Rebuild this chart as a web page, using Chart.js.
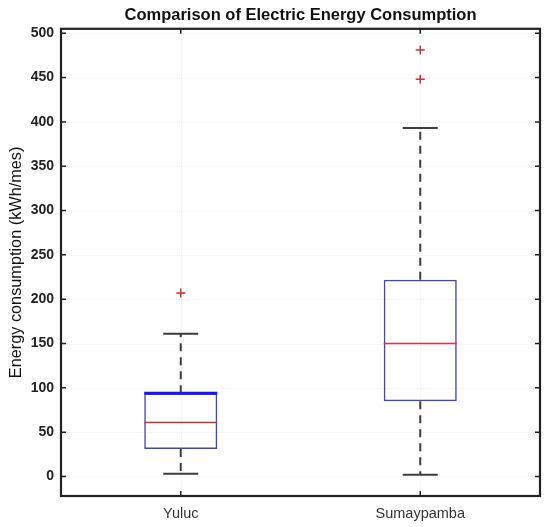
<!DOCTYPE html>
<html>
<head>
<meta charset="utf-8">
<script src="https://cdn.jsdelivr.net/npm/chart.js@4/dist/chart.umd.min.js"></script>
<style>
html,body{margin:0;padding:0;background:#fff;}
#wrap{width:550px;height:527px;}
</style>
</head>
<body>
<div id="wrap"><canvas id="c" width="550" height="527"></canvas></div>
<script>
const categories = ['Yuluc', 'Sumaypamba'];
const lowerWhisker = [3, 2];
const q1 = [31, 85];
const median = [61, 150];
const q3 = [94, 222];
const upperWhisker = [161, 393];
const outliersYuluc = [207];
const outliersSumaypamba = [481, 448];
const yTicks = [0, 50, 100, 150, 200, 250, 300, 350, 400, 450, 500];

const outlierPoints = [
  ...outliersYuluc.map(v => ({x: categories[0], y: v})),
  ...outliersSumaypamba.map(v => ({x: categories[1], y: v}))
];

const BOX_FRAC = 0.305;   // box width as fraction of category width
const CAP_FRAC = 0.146;   // whisker cap width as fraction of category width

const boxPlugin = {
  id: 'boxWhiskers',
  beforeDatasetsDraw(chart) {
    const {ctx, chartArea: a, scales: {x, y}} = chart;
    ctx.save();
    ctx.strokeStyle = 'rgba(0,0,0,0.06)';
    ctx.lineWidth = 1;
    ctx.setLineDash([1, 1]);
    yTicks.forEach(t => {
      const py = Math.round(y.getPixelForValue(t)) + 0.5;
      ctx.beginPath(); ctx.moveTo(a.left, py); ctx.lineTo(a.right, py); ctx.stroke();
    });
    categories.forEach((c, i) => {
      const px = Math.round(x.getPixelForValue(i)) + 0.5;
      ctx.beginPath(); ctx.moveTo(px, a.top); ctx.lineTo(px, a.bottom); ctx.stroke();
    });
    ctx.restore();
  },
  afterDatasetsDraw(chart) {
    const {ctx, chartArea: a, scales: {x, y}} = chart;
    const catW = (a.right - a.left) / categories.length;
    ctx.save();
    categories.forEach((c, i) => {
      const cx = x.getPixelForValue(i);
      const boxHalf = catW * BOX_FRAC / 2;
      const capHalf = catW * CAP_FRAC / 2;
      ctx.strokeStyle = '#3d3d3d';
      ctx.lineWidth = 2;
      ctx.setLineDash([8, 6]);
      ctx.beginPath();
      ctx.moveTo(cx, y.getPixelForValue(q3[i]));
      ctx.lineTo(cx, y.getPixelForValue(upperWhisker[i]));
      ctx.moveTo(cx, y.getPixelForValue(q1[i]));
      ctx.lineTo(cx, y.getPixelForValue(lowerWhisker[i]));
      ctx.stroke();
      ctx.setLineDash([]);
      ctx.beginPath();
      [upperWhisker[i], lowerWhisker[i]].forEach(v => {
        const py = y.getPixelForValue(v);
        ctx.moveTo(cx - capHalf, py); ctx.lineTo(cx + capHalf, py);
      });
      ctx.stroke();
      ctx.strokeStyle = i === 0 ? '#b03a3a' : '#d8334a';
      ctx.lineWidth = 1.5;
      ctx.beginPath();
      const pm = y.getPixelForValue(median[i]);
      ctx.moveTo(cx - boxHalf, pm); ctx.lineTo(cx + boxHalf, pm);
      ctx.stroke();
    });
    ctx.strokeStyle = '#1414ff';
    ctx.lineWidth = 3;
    ctx.beginPath();
    const cx0 = x.getPixelForValue(0), bh = catW * BOX_FRAC / 2, p3 = y.getPixelForValue(q3[0]);
    ctx.moveTo(cx0 - bh, p3); ctx.lineTo(cx0 + bh, p3);
    ctx.stroke();
    ctx.restore();
  },
  afterDraw(chart) {
    const {ctx, chartArea: a, scales: {x, y}} = chart;
    ctx.save();
    ctx.strokeStyle = '#222';
    ctx.lineWidth = 1.5;
    ctx.beginPath();
    yTicks.forEach(t => {
      const py = y.getPixelForValue(t);
      ctx.moveTo(a.left, py); ctx.lineTo(a.left + 5, py);
      ctx.moveTo(a.right, py); ctx.lineTo(a.right - 5, py);
    });
    categories.forEach((c, i) => {
      const px = x.getPixelForValue(i);
      ctx.moveTo(px, a.bottom); ctx.lineTo(px, a.bottom - 5);
      ctx.moveTo(px, a.top); ctx.lineTo(px, a.top + 5);
    });
    ctx.stroke();
    ctx.lineWidth = 2.2;
    ctx.strokeRect(a.left, a.top, a.right - a.left, a.bottom - a.top);
    ctx.restore();
  }
};

new Chart(document.getElementById('c'), {
  type: 'bar',
  data: {
    labels: categories,
    datasets: [
      {
        type: 'bar',
        label: 'IQR',
        data: categories.map((c, i) => [q1[i], q3[i]]),
        backgroundColor: 'rgba(0,0,0,0)',
        borderColor: '#4444b4',
        borderWidth: 1.5,
        borderSkipped: false,
        barPercentage: BOX_FRAC,
        categoryPercentage: 1,
        order: 2
      },
      {
        type: 'line',
        label: 'Outliers',
        data: outlierPoints,
        showLine: false,
        pointStyle: 'cross',
        pointRadius: 4.5,
        pointBorderWidth: 1.5,
        pointBorderColor: '#d03030',
        pointBackgroundColor: '#d03030',
        order: 1
      }
    ]
  },
  options: {
    responsive: false,
    animation: false,
    devicePixelRatio: 1,
    layout: {padding: {left: 0, right: 10, top: 0, bottom: 0}},
    plugins: {
      legend: {display: false},
      tooltip: {enabled: false},
      title: {
        display: true,
        fullSize: false,
        text: 'Comparison of Electric Energy Consumption',
        color: '#111',
        font: {family: 'Liberation Sans, Arial, sans-serif', size: 16.5, weight: 'bold'},
        padding: {top: 6, bottom: 3}
      }
    },
    scales: {
      x: {
        offset: true,
        grid: {display: false, drawTicks: false},
        border: {display: false},
        ticks: {
          color: '#333',
          padding: 9,
          font: {family: 'Liberation Sans, Arial, sans-serif', size: 14.5}
        },
        afterFit: s => { s.height = 31; }
      },
      y: {
        min: -22,
        max: 505,
        afterBuildTicks: s => { s.ticks = yTicks.map(v => ({value: v})); },
        grid: {display: false, drawTicks: false},
        border: {display: false},
        ticks: {
          color: '#222',
          padding: 7,
          font: {family: 'Liberation Sans, Arial, sans-serif', size: 14, weight: 'bold'}
        },
        title: {
          display: true,
          text: 'Energy consumption (kWh/mes)',
          color: '#111',
          padding: {top: 7, bottom: 0},
          font: {family: 'Liberation Sans, Arial, sans-serif', size: 16.3}
        },
        afterFit: s => { s.width = 61; }
      }
    }
  },
  plugins: [boxPlugin]
});
</script>
</body>
</html>
